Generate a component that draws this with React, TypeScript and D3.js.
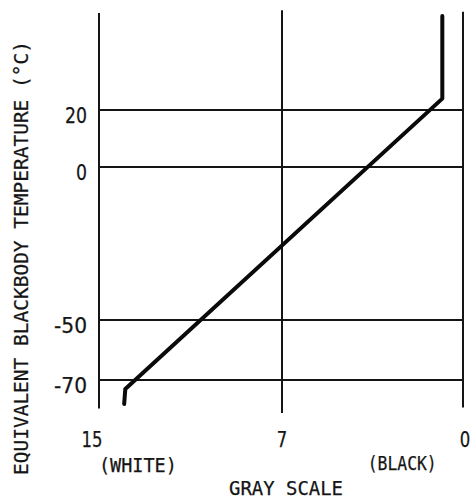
import React, { useEffect, useRef } from "react";
import * as d3 from "d3";

const width = 474;
const height = 500;

// temperature gridlines (deg C) and gray-scale ticks
const tempTicks = [20, 0, -50, -70];
const grayTicks = [15, 7, 0];
const grayLabels = ["(WHITE)", "(BLACK)"];

// calibration curve
const curveGray = [13.9, 13.85, 0.8, 0.8];
const curveTemp = [-78, -73, 24, 53];

const numFont = "'DejaVu Sans Condensed', 'DejaVu Sans', sans-serif";
const typeFont = "'DejaVu Sans Mono', 'Liberation Mono', monospace";

export default function App() {
  const ref = useRef<SVGSVGElement>(null);

  useEffect(() => {
    const svg = d3.select(ref.current);
    svg.selectAll("*").remove();

    // the scanned chart is not quite uniform, so use piecewise scales
    const x = d3.scaleLinear().domain(grayTicks).range([99, 282, 463]);
    const y = d3.scaleLinear().domain(tempTicks).range([110, 167, 320, 380]);

    const ink = "#151515";
    const g = svg.append("g");

    // vertical frame lines
    const vTop = [54, 55, 54.5];
    const vBot = [-79.5, -81, -79.2];
    grayTicks.forEach((t, i) => {
      g.append("line")
        .attr("x1", x(t)).attr("x2", x(t))
        .attr("y1", y(vTop[i])).attr("y2", y(vBot[i]))
        .attr("stroke", ink).attr("stroke-width", 2);
    });

    // horizontal gridlines
    g.selectAll(".hgrid")
      .data(tempTicks)
      .enter().append("line")
      .attr("x1", x(15)).attr("x2", x(0))
      .attr("y1", d => y(d)).attr("y2", d => y(d))
      .attr("stroke", ink).attr("stroke-width", 1.8);

    // y tick labels
    g.selectAll(".ylab")
      .data(tempTicks)
      .enter().append("text")
      .attr("x", 87)
      .attr("y", d => y(d) + 13)
      .attr("text-anchor", "end")
      .attr("font-family", numFont)
      .attr("font-size", 22)
      .attr("textLength", d => String(d).length * 11)
      .attr("lengthAdjust", "spacingAndGlyphs")
      .attr("fill", ink).attr("stroke", ink).attr("stroke-width", 0.25)
      .text(d => String(d));

    // x tick labels
    g.selectAll(".xlab")
      .data(grayTicks)
      .enter().append("text")
      .attr("x", (d, i) => x(d) + (i === 0 ? -7 : i === 2 ? 2 : 0))
      .attr("y", 447)
      .attr("text-anchor", "middle")
      .attr("font-family", numFont)
      .attr("font-size", 21)
      .attr("textLength", d => String(d).length * 10.5)
      .attr("lengthAdjust", "spacingAndGlyphs")
      .attr("fill", ink).attr("stroke", ink).attr("stroke-width", 0.25)
      .text(d => String(d));

    const typeText = (tx: number, ty: number, len: number, s: string, rot = false) =>
      g.append("text")
        .attr("transform", `translate(${tx},${ty})${rot ? " rotate(-90)" : ""}`)
        .attr("text-anchor", "middle")
        .attr("font-family", typeFont).attr("font-size", 20)
        .attr("textLength", len).attr("lengthAdjust", "spacingAndGlyphs")
        .attr("fill", ink).attr("stroke", ink).attr("stroke-width", 0.25)
        .text(s);

    // end labels
    typeText(x(13.3), 472, 78, grayLabels[0]);
    typeText(x(2.35), 470, 69, grayLabels[1]);

    // axis titles
    typeText(286, 495, 114, "GRAY SCALE");
    typeText(28, 258, 434, "EQUIVALENT BLACKBODY TEMPERATURE (\u00B0C)", true);

    // calibration curve
    const pts: [number, number][] = curveGray.map((v, i) => [v, curveTemp[i]]);
    const line = d3.line<[number, number]>()
      .x(d => x(d[0]))
      .y(d => y(d[1]));
    g.append("path")
      .attr("d", line(pts))
      .attr("fill", "none")
      .attr("stroke", "#0a0a0a")
      .attr("stroke-width", 4)
      .attr("stroke-linejoin", "round")
      .attr("stroke-linecap", "round");
  }, []);

  return (
    <svg
      ref={ref}
      width={width}
      height={height}
      style={{ position: "absolute", left: 0, top: 0, background: "#fff" }}
    />
  );
}
